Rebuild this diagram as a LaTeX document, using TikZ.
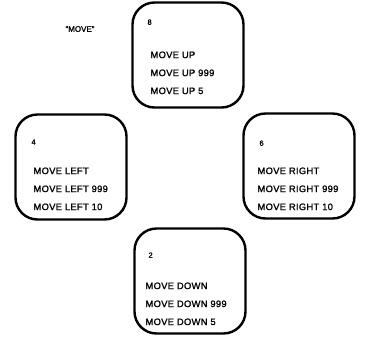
\documentclass[tikz,border=0pt]{standalone}
\usepackage{fontspec}
\setmainfont{Liberation Sans}[FakeBold=1.4]
\usetikzlibrary{positioning}
\tikzset{
  movebox/.style={draw=black, line width=2.4pt, rounded corners=22pt,
    minimum width=111pt, minimum height=105pt},
  keynum/.style={inner sep=0pt, font=\fontsize{7.5}{8}\selectfont},
  cmds/.style={inner sep=0pt, align=left,
    font=\fontsize{9.4}{18}\selectfont\addfontfeatures{LetterSpace=3}},
  title/.style={inner sep=0pt, font=\fontsize{8}{9}\selectfont}
}

\begin{document}
\begin{tikzpicture}[x=1pt,y=1pt]
  \useasboundingbox (0,0) rectangle (370,-349);
  % caption
  \node[title] (name) at (80,-29) {"MOVE"};
  % the four keys
  \node[movebox] (up) at (188,-55) {};
  \node[movebox] (left) at (71,-167) {};
  \node[movebox] (right) at (299,-166) {};
  \node[movebox] (down) at (190,-281) {};
  % key numbers
  \node[keynum, below right=18pt and 16pt of up.north west] (up num) {8};
  \node[keynum, below right=26pt and 17pt of left.north west] (left num) {4};
  \node[keynum, below right=28pt and 17pt of right.north west] (right num) {6};
  \node[keynum, below right=25pt and 15pt of down.north west] (down num) {2};
  % commands
  \node[cmds, below right=50pt and 19pt of up.north west] (up cmds)
    {MOVE UP\\MOVE UP 999\\MOVE UP 5};
  \node[cmds, below right=54pt and 19pt of left.north west] (left cmds)
    {MOVE LEFT\\MOVE LEFT 999\\MOVE LEFT 10};
  \node[cmds, below right=55pt and 15pt of right.north west] (right cmds)
    {MOVE RIGHT\\MOVE RIGHT 999\\MOVE RIGHT 10};
  \node[cmds, below right=55pt and 12pt of down.north west] (down cmds)
    {MOVE DOWN\\MOVE DOWN 999\\MOVE DOWN 5};
\end{tikzpicture}
\end{document}
